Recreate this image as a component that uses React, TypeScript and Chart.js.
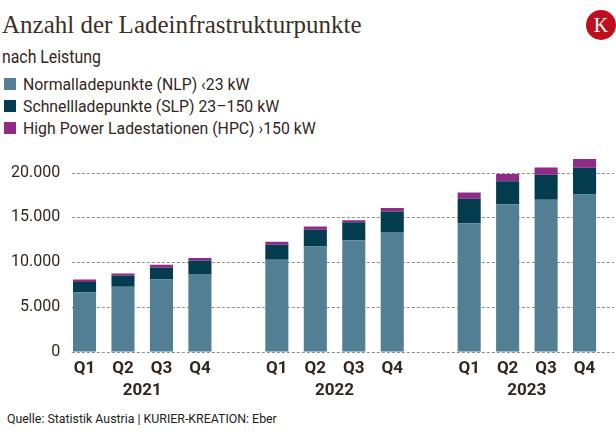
import React, { useEffect, useRef } from "react";
import { Chart, registerables } from "chart.js";

Chart.register(...registerables);

const years = ["2021", "2022", "2023"];
const quarters = ["Q1", "Q2", "Q3", "Q4"];
const nlpValues = [6620, 7250, 8070, 8660, 10260, 11750, 12450, 13350, 14350, 16470, 16950, 17550];
const slpValues = [1150, 1220, 1300, 1480, 1670, 1850, 2010, 2300, 2710, 2560, 2790, 2970];
const hpcValues = [300, 270, 330, 330, 330, 380, 220, 400, 710, 810, 820, 1000];
const yTicks = [0, 5000, 10000, 15000, 20000];
const seriesNames = [
  "Normalladepunkte (NLP) ‹23 kW",
  "Schnellladepunkte (SLP) 23–150 kW",
  "High Power Ladestationen (HPC) ›150 kW",
];
const colors = ["#527f94", "#033b4f", "#8f2a87"];
const textColor = "#33261d";

// Build category labels with an empty gap slot between years
const labels: string[] = [];
const yearStarts: number[] = [];
function withGaps(vals: number[]): (number | null)[] {
  const out: (number | null)[] = [];
  years.forEach((_, yi) => {
    if (yi > 0) out.push(null);
    quarters.forEach((_, qi) => out.push(vals[yi * quarters.length + qi]));
  });
  return out;
}
years.forEach((_, yi) => {
  if (yi > 0) labels.push("");
  yearStarts.push(labels.length);
  quarters.forEach((q) => labels.push(q));
});

const fmt = (v: number) => String(v).replace(/\B(?=(\d{3})+(?!\d))/g, ".");

const gridPlugin = {
  id: "customGrid",
  beforeDatasetsDraw(chart: any) {
    const { ctx, chartArea, scales } = chart;
    const y = scales.y;
    ctx.save();
    ctx.strokeStyle = "#8c8c8c";
    ctx.lineWidth = 1;
    ctx.setLineDash([3, 2]);
    yTicks.forEach((v) => {
      const py = Math.round(y.getPixelForValue(v)) + 0.5;
      ctx.beginPath();
      ctx.moveTo(chartArea.left + 6.5, py);
      ctx.lineTo(chart.width - 2, py);
      ctx.stroke();
    });
    ctx.restore();
  },
};

const yearPlugin = {
  id: "yearLabels",
  afterDraw(chart: any) {
    const { ctx, chartArea, scales } = chart;
    const x = scales.x;
    ctx.save();
    ctx.fillStyle = textColor;
    ctx.font = "bold 17px Roboto";
    ctx.textAlign = "center";
    ctx.textBaseline = "middle";
    years.forEach((yr, i) => {
      const s = yearStarts[i];
      const px = (x.getPixelForValue(s) + x.getPixelForValue(s + quarters.length - 1)) / 2;
      ctx.fillText(yr, px, chartArea.bottom + 39.5);
    });
    ctx.restore();
  },
};

function ChartCanvas() {
  const ref = useRef<HTMLCanvasElement>(null);
  useEffect(() => {
    if (!ref.current) return;
    const chart = new Chart(ref.current, {
      type: "bar",
      data: {
        labels,
        datasets: [nlpValues, slpValues, hpcValues].map((vals, i) => ({
          label: seriesNames[i],
          data: withGaps(vals),
          backgroundColor: colors[i],
          categoryPercentage: 1,
          barPercentage: 0.6,
        })),
      },
      options: {
        responsive: false,
        animation: false,
        layout: { padding: { top: 14.4, right: 12.2, bottom: 24.3, left: 0 } },
        plugins: { legend: { display: false }, tooltip: { enabled: false } },
        scales: {
          x: {
            stacked: true,
            grid: { display: false, drawTicks: false },
            border: { display: false },
            ticks: {
              color: textColor,
              font: { family: "Roboto", size: 17, weight: "bold" },
              padding: 7,
              autoSkip: false,
              maxRotation: 0,
            },
            afterFit: (s: any) => {
              s.height = 24;
            },
          },
          y: {
            stacked: true,
            min: 0,
            max: 22000,
            grid: { display: false, drawTicks: false },
            border: { display: false },
            afterBuildTicks: (s: any) => {
              s.ticks = yTicks.map((v) => ({ value: v }));
            },
            ticks: {
              color: textColor,
              font: { family: "Roboto", size: 16 },
              padding: 5,
              callback: (v: any) => fmt(Number(v)),
            },
            afterFit: (s: any) => {
              s.width = 65.3;
            },
          },
        },
      } as any,
      plugins: [gridPlugin, yearPlugin],
    });
    return () => chart.destroy();
  }, []);
  return (
    <canvas
      ref={ref}
      width={616}
      height={260}
      style={{ position: "absolute", left: 0, top: 140, width: 616, height: 260, display: "block" }}
    />
  );
}

export default function App() {
  const rowTops = [73.5, 95.7, 118];
  return (
    <div
      style={{
        position: "absolute",
        left: 0,
        top: 0,
        width: 616,
        height: 437,
        background: "#ffffff",
        overflow: "hidden",
        color: textColor,
      }}
    >
      <div
        style={{
          position: "absolute",
          left: 2,
          top: 12,
          fontFamily: "'Liberation Serif', serif",
          fontSize: 25,
          lineHeight: "25px",
          whiteSpace: "nowrap",
          color: "#3b2f26",
        }}
      >
        Anzahl der Ladeinfrastrukturpunkte
      </div>
      <div
        style={{
          position: "absolute",
          left: 586,
          top: 9.5,
          width: 30,
          height: 30,
          borderRadius: "50%",
          background: "#bf0f1f",
          color: "#fff",
          fontFamily: "'Liberation Serif', serif",
          fontSize: 20,
          lineHeight: "30px",
          textAlign: "center",
        }}
      >
        K
      </div>
      <div
        style={{
          position: "absolute",
          left: 2,
          top: 48.2,
          fontFamily: "Roboto, sans-serif",
          fontSize: 18,
          lineHeight: "18px",
          whiteSpace: "nowrap",
          transform: "scaleX(0.88)",
          transformOrigin: "left center",
        }}
      >
        nach Leistung
      </div>
      {seriesNames.map((name, i) => (
        <div key={name} style={{ position: "absolute", left: 0, top: rowTops[i], height: 20 }}>
          <div
            style={{
              position: "absolute",
              left: 4,
              top: 4,
              width: 12,
              height: 12,
              background: colors[i],
            }}
          />
          <div
            style={{
              position: "absolute",
              left: 23,
              top: 0,
              fontFamily: "Roboto, sans-serif",
              fontSize: 17,
              lineHeight: "20px",
              whiteSpace: "nowrap",
              transform: "scaleX(0.93)",
              transformOrigin: "left center",
            }}
          >
            {name}
          </div>
        </div>
      ))}
      <ChartCanvas />
      <div
        style={{
          position: "absolute",
          left: 7.3,
          top: 411.3,
          fontFamily: "Roboto, sans-serif",
          fontSize: 13,
          lineHeight: "15px",
          whiteSpace: "nowrap",
          transform: "scaleX(0.95)",
          transformOrigin: "left center",
          color: "#222",
        }}
      >
        Quelle: Statistik Austria | KURIER-KREATION: Eber
      </div>
    </div>
  );
}
